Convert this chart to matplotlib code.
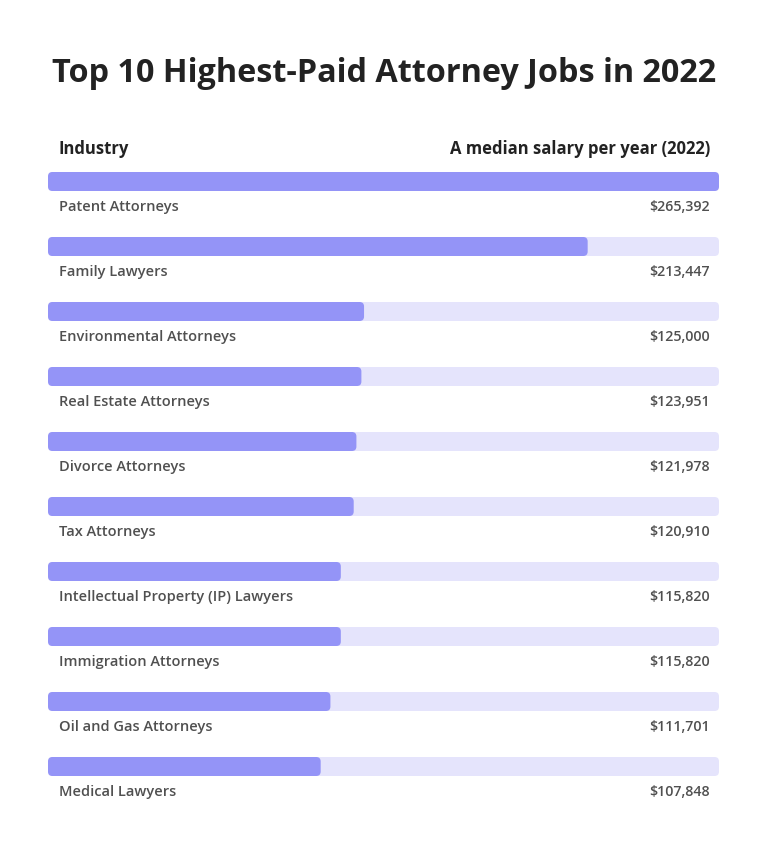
import matplotlib
matplotlib.use("Agg")
import matplotlib.pyplot as plt
from matplotlib.patches import FancyBboxPatch

categories = ["Patent Attorneys", "Family Lawyers", "Environmental Attorneys",
              "Real Estate Attorneys", "Divorce Attorneys", "Tax Attorneys",
              "Intellectual Property (IP) Lawyers", "Immigration Attorneys",
              "Oil and Gas Attorneys", "Medical Lawyers"]
salaries = [265392, 213447, 125000, 123951, 121978, 120910, 115820, 115820, 111701, 107848]
title = "Top 10 Highest-Paid Attorney Jobs in 2022"
header_left = "Industry"
header_right = "A median salary per year (2022)"

W, H, DPI = 768, 849, 100
BAR = "#9494f7"
TRACK = "#e5e4fc"
FONT = "Open Sans"

fig = plt.figure(figsize=(W / DPI, H / DPI), dpi=DPI)
fig.patch.set_facecolor("white")

left_px, right_px = 48, 719
ax = fig.add_axes([left_px / W, 0, (right_px - left_px) / W, 1])
ax.set_axis_off()
row_px = 65.0
first_center = 181.5
ax.set_ylim((H - first_center) / row_px, -first_center / row_px)
vmax = max(salaries)
ax.set_xlim(0, vmax)

x_per_px = vmax / (right_px - left_px)
y_per_px = 1 / row_px
aspect = y_per_px / x_per_px
bar_h = 19 / row_px
rad = 4.5 * x_per_px

for i, (name, val) in enumerate(zip(categories, salaries)):
    track = FancyBboxPatch((0, i - bar_h / 2), vmax, bar_h,
                           boxstyle=f"round,pad=0,rounding_size={rad}",
                           mutation_aspect=aspect, fc=TRACK, ec="none")
    ax.add_patch(track)
    bar = FancyBboxPatch((0, i - bar_h / 2), val, bar_h,
                         boxstyle=f"round,pad=0,rounding_size={rad}",
                         mutation_aspect=aspect, fc=BAR, ec="none")
    ax.add_patch(bar)
    ty = i + (207 - first_center) / row_px
    ax.text(11 * x_per_px, ty, name, ha="left", va="center", fontsize=10.5,
            fontfamily=FONT, fontweight="semibold", color="#505050")
    ax.text(vmax - 9 * x_per_px, ty, f"${val:,}", ha="right", va="center",
            fontsize=10.3, fontfamily=FONT, fontweight="semibold", color="#505050")

fig.text(0.5, 1 - 74 / H, title, ha="center", va="center", fontsize=23.3,
         fontfamily=FONT, fontweight="bold", color="#222222")
fig.text(59 / W, 1 - 149 / H, header_left, ha="left", va="center", fontsize=12,
         fontfamily=FONT, fontweight="bold", color="#222222")
fig.text(710 / W, 1 - 149 / H, header_right, ha="right", va="center", fontsize=12,
         fontfamily=FONT, fontweight="bold", color="#222222")

fig.savefig("out.png", dpi=DPI)
